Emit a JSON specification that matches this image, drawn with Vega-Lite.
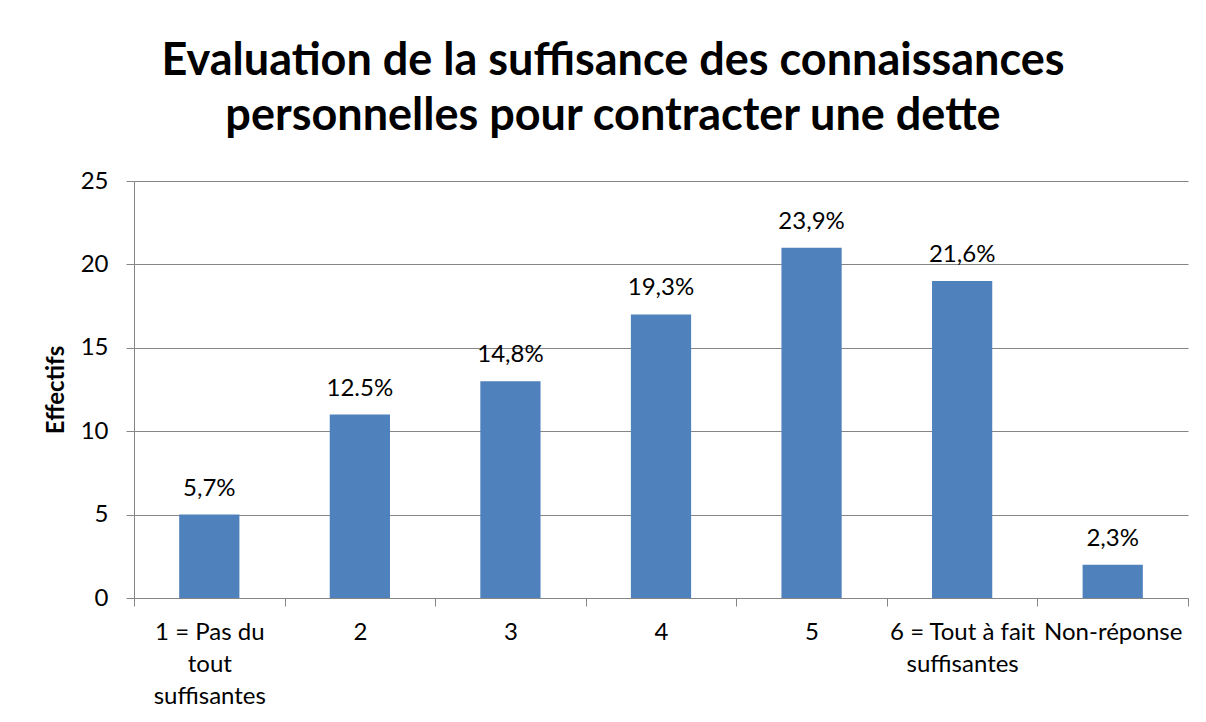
{
  "$schema": "https://vega.github.io/schema/vega-lite/v6.json",
  "width": 1054,
  "height": 417,
  "autosize": "none",
  "padding": {"left": 134, "top": 181, "right": 18, "bottom": 124},
  "background": "white",
  "config": {"view": {"stroke": null}, "font": "Lato"},
  "title": {
    "text": ["Evaluation de la suffisance des connaissances", "personnelles pour contracter une dette"],
    "font": "Lato",
    "fontSize": 45,
    "fontWeight": "bold",
    "color": "black",
    "anchor": "middle",
    "dx": -48,
    "lineHeight": 55,
    "offset": 30
  },
  "data": {
    "values": [
      {"cat": "1 = Pas du|tout|suffisantes", "n": 5, "pct": "5,7%"},
      {"cat": "2", "n": 11, "pct": "12.5%"},
      {"cat": "3", "n": 13, "pct": "14,8%"},
      {"cat": "4", "n": 17, "pct": "19,3%"},
      {"cat": "5", "n": 21, "pct": "23,9%"},
      {"cat": "6 = Tout à fait|suffisantes", "n": 19, "pct": "21,6%"},
      {"cat": "Non-réponse", "n": 2, "pct": "2,3%"}
    ]
  },
  "encoding": {
    "x": {
      "field": "cat",
      "type": "nominal",
      "sort": null,
      "scale": {"paddingInner": 0, "paddingOuter": 0},
      "axis": {
        "title": null,
        "labelAngle": 0,
        "tickBand": "extent",
        "labelExpr": "split(datum.label, '|')",
        "labelFont": "Lato",
        "labelFontSize": 24,
        "labelColor": "black",
        "labelLineHeight": 32,
        "labelPadding": 14,
        "labelLimit": 0,
        "domainColor": "#868686",
        "tickColor": "#868686",
        "tickSize": 8,
        "grid": false
      }
    },
    "y": {
      "field": "n",
      "type": "quantitative",
      "scale": {"domain": [0, 25], "nice": false},
      "axis": {
        "values": [0, 5, 10, 15, 20, 25],
        "title": "Effectifs",
        "titleFont": "Lato",
        "titleFontSize": 24,
        "titleFontWeight": "bold",
        "titleColor": "black",
        "titlePadding": 12,
        "labelFont": "Lato",
        "labelFontSize": 24,
        "labelColor": "black",
        "labelPadding": 18,
        "domainColor": "#868686",
        "tickColor": "#868686",
        "tickSize": 8,
        "grid": true,
        "gridColor": "#868686"
      }
    }
  },
  "layer": [
    {"mark": {"type": "bar", "color": "#4F81BD", "width": {"band": 0.4}}},
    {
      "mark": {"type": "text", "baseline": "alphabetic", "dy": -19, "fontSize": 24, "font": "Lato", "color": "black"},
      "encoding": {"text": {"field": "pct"}}
    }
  ]
}
